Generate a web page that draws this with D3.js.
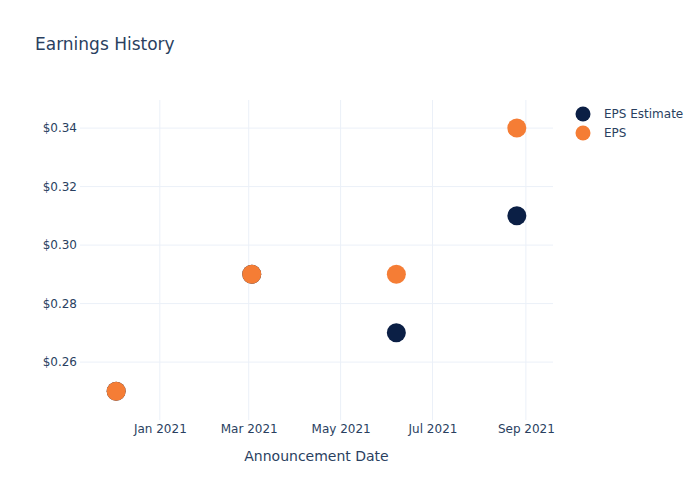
<!DOCTYPE html>
<html>
<head>
<meta charset="utf-8">
<script src="https://cdn.jsdelivr.net/npm/d3@7"></script>
<style>
  body { margin: 0; background: #fff; }
  svg text { font-family: "DejaVu Sans", verdana, arial, sans-serif; fill: #2a3f5f; }
</style>
</head>
<body>
<svg id="chart" width="700" height="500"></svg>
<script>
const dates = ["2020-12-03", "2021-03-03", "2021-06-07", "2021-08-26"];
const epsEstimate = [0.25, 0.29, 0.27, 0.31];
const eps = [0.25, 0.29, 0.29, 0.34];
const seriesNames = ["EPS Estimate", "EPS"];
const seriesColors = ["#0b1f45", "#f57d35"];
const xTickDates = ["2021-01-01", "2021-03-01", "2021-05-01", "2021-07-01", "2021-09-01"];
const yTicks = [0.26, 0.28, 0.30, 0.32, 0.34];

const parse = d3.utcParse("%Y-%m-%d");
const svg = d3.select("#chart");
const W = 700, H = 500;
const m = { l: 80, r: 147, t: 100, b: 80 };
const pw = W - m.l - m.r, ph = H - m.t - m.b;

const x = d3.scaleUtc()
  .domain([parse("2020-11-09"), parse("2021-09-19")])
  .range([m.l, m.l + pw]);
const y = d3.scaleLinear()
  .domain([0.2402, 0.3496])
  .range([m.t + ph, m.t]);

// grid
const g = svg.append("g");
g.selectAll("line.vx").data(xTickDates.map(parse)).join("line")
  .attr("x1", d => x(d)).attr("x2", d => x(d))
  .attr("y1", m.t).attr("y2", m.t + ph)
  .attr("stroke", "#ebf0f8").attr("stroke-width", 1);
g.selectAll("line.hy").data(yTicks).join("line")
  .attr("x1", m.l).attr("x2", m.l + pw)
  .attr("y1", d => y(d)).attr("y2", d => y(d))
  .attr("stroke", "#ebf0f8").attr("stroke-width", 1);

// axes
const xAxis = d3.axisBottom(x).tickValues(xTickDates.map(parse))
  .tickFormat(d3.utcFormat("%b %Y")).tickSize(0).tickPadding(0);
const xg = svg.append("g").attr("transform", `translate(0,${m.t + ph})`).call(xAxis);
xg.select(".domain").remove();
xg.selectAll("text").attr("font-size", 12).attr("dy", null).attr("y", 13)
  .style("fill", "#2a3f5f").style("font-family", "'DejaVu Sans', verdana, sans-serif");

const yAxis = d3.axisLeft(y).tickValues(yTicks)
  .tickFormat(d => "$" + d3.format(".2f")(d)).tickSize(0).tickPadding(3);
const yg = svg.append("g").attr("transform", `translate(${m.l},0)`).call(yAxis);
yg.select(".domain").remove();
yg.selectAll("text").attr("font-size", 12)
  .style("fill", "#2a3f5f").style("font-family", "'DejaVu Sans', verdana, sans-serif");

// titles
svg.append("text").attr("x", 35).attr("y", 50).attr("font-size", 17).text("Earnings History");
svg.append("text").attr("x", m.l + pw / 2).attr("y", 461).attr("text-anchor", "middle")
  .attr("font-size", 14).text("Announcement Date");

// points
const series = [epsEstimate, eps];
series.forEach((vals, i) => {
  svg.append("g").selectAll("circle").data(vals).join("circle")
    .attr("cx", (d, j) => x(parse(dates[j])))
    .attr("cy", d => y(d))
    .attr("r", 9.5)
    .attr("fill", seriesColors[i]);
});

// legend
const lg = svg.append("g");
seriesNames.forEach((name, i) => {
  const yy = 114 + i * 19;
  lg.append("circle").attr("cx", 583).attr("cy", yy).attr("r", 7.5).attr("fill", seriesColors[i]);
  lg.append("text").attr("x", 604).attr("y", yy + 4).attr("font-size", 12).text(name);
});
</script>
</body>
</html>
